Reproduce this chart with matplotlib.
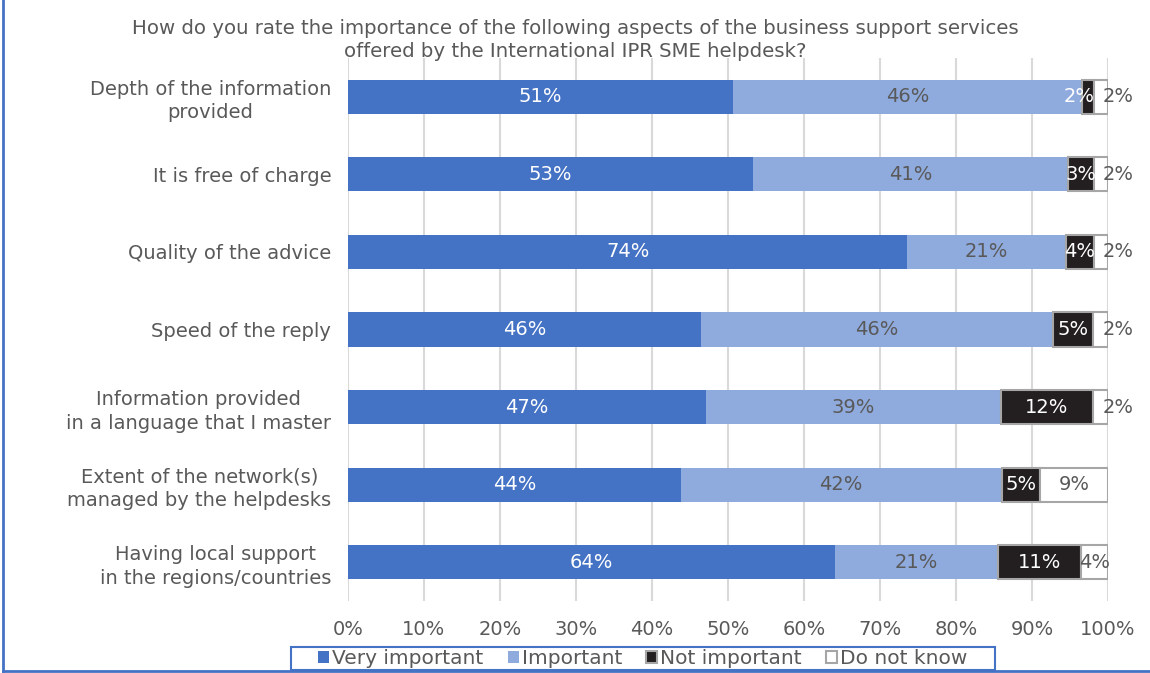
import matplotlib.pyplot as plt
from matplotlib.lines import Line2D
from matplotlib.patches import Rectangle
import numpy as np

categories = [
    'Depth of the information\nprovided',
    'It is free of charge',
    'Quality of the advice',
    'Speed of the reply',
    'Information provided\nin a language that I master',
    'Extent of the network(s)\nmanaged by the helpdesks',
    'Having local support\nin the regions/countries',
]
very_important = [50.7, 53.3, 73.6, 46.4, 47.1, 43.8, 64.1]
important = [45.9, 41.4, 20.9, 46.4, 38.8, 42.2, 21.4]
not_important = [1.5, 3.4, 3.6, 5.2, 12.1, 5.1, 10.9]
do_not_know = [1.9, 1.9, 1.9, 2.0, 2.0, 8.9, 3.6]

series = ['Very important', 'Important', 'Not important', 'Do not know']
colors = ['#4472C4', '#8FAADC', '#231F20', '#FFFFFF']
edges = ['none', 'none', '#A6A6A6', '#A6A6A6']
label_colors = ['white', '#595959', 'white', '#595959']
grey = '#595959'
fs = 14

plt.rcParams['font.family'] = 'DejaVu Sans'

fig = plt.figure(figsize=(11.5, 6.73), dpi=100)
ax = fig.add_axes([348 / 1150, 1 - 601 / 673, 760 / 1150, 543 / 673])

y = np.arange(len(categories))
left = np.zeros(len(categories))
for i, (name, vals, c, ec, lc) in enumerate(zip(series, [very_important, important, not_important, do_not_know],
                                                colors, edges, label_colors)):
    vals = np.array(vals)
    ax.barh(y, vals, left=left, height=0.44, color=c, edgecolor=ec,
            linewidth=1.5, label=name, zorder=3)
    for xi, yi, v in zip(left, y, vals):
        xc = xi + v / 2
        # small "do not know" labels are pushed right of the bar end, as Excel does
        if i == 3 and v < 3:
            xc = xi + v + 1.3
        # tiny "not important" labels drift a bit left
        if i == 2 and v < 2:
            xc = xi - 0.4
        ax.text(xc, yi, '%.0f%%' % v, ha='center', va='center',
                color=lc, fontsize=fs, zorder=4)
    left = left + vals

ax.set_xlim(0, 100)
ax.set_ylim(len(categories) - 0.5, -0.5)
ax.set_xticks(np.arange(0, 101, 10))
ax.set_xticklabels(['%d%%' % t for t in range(0, 101, 10)])
ax.set_yticks(y)
ax.set_yticklabels(categories, ha='right', multialignment='center', linespacing=1.3)
ax.tick_params(axis='both', length=0, colors=grey, labelsize=fs)
ax.tick_params(axis='x', pad=14)
ax.tick_params(axis='y', pad=12)
ax.grid(axis='x', color='#D9D9D9', linewidth=1.5, zorder=0)
for s in ax.spines.values():
    s.set_visible(False)

fig.text(0.5, 1 - 40 / 673,
         'How do you rate the importance of the following aspects of the business support services\n'
         'offered by the International IPR SME helpdesk?',
         ha='center', va='center', color=grey, fontsize=14.2, linespacing=1.3)

leg = fig.legend(loc='center', bbox_to_anchor=(643 / 1150, 1 - 659 / 673), ncol=4,
                 frameon=False, fontsize=14.5, handlelength=0.55,
                 handleheight=0.55, handletextpad=0.15, columnspacing=1.2,
                 borderpad=0.1, borderaxespad=0)
for t in leg.get_texts():
    t.set_color(grey)

# legend frame and outer border lines (left and bottom)
fig.add_artist(Rectangle((291 / 1150, 1 - 670 / 673), 704 / 1150, 23 / 673, fill=False,
                         edgecolor='#4472C4', lw=1.5, transform=fig.transFigure))
fig.add_artist(Line2D([3 / 1150, 3 / 1150], [1 - 671 / 673, 1], color='#4472C4', lw=2,
                      transform=fig.transFigure))
fig.add_artist(Line2D([3 / 1150, 1], [1 - 671 / 673, 1 - 671 / 673], color='#4472C4', lw=2,
                      transform=fig.transFigure))

fig.savefig('out.png', dpi=100)
